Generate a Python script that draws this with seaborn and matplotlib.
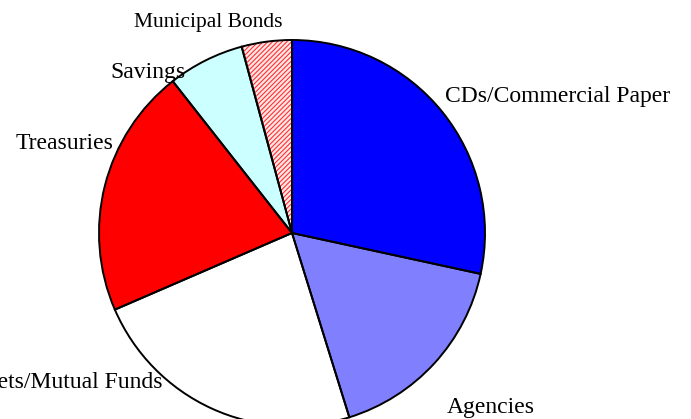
import matplotlib
matplotlib.use("Agg")
import matplotlib.pyplot as plt
import seaborn as sns

categories = ["CDs/Commercial Paper", "Agencies", "Money Markets/Mutual Funds",
              "Treasuries", "Savings", "Municipal Bonds"]
values = [28.4, 16.8, 23.3, 20.9, 6.4, 4.2]
colors = ["#0000ff", "#8080ff", "#ffffff", "#ff0000", "#ccffff", "#ffe6e6"]
hatches = [None, None, None, None, None, "///////"]
hatch_colors = ["none", "none", "none", "none", "none", "#ff3030"]

# label layout: (x px, baseline y px, ha, fontsize)
label_layout = [
    (445, 102, "left", 17),
    (447, 413, "left", 17),
    (163, 388, "right", 17),
    (113, 149, "right", 17),
    (185, 78, "right", 17),
    (282, 27, "right", 15.5),
]

sns.set_theme(style="white")
plt.rcParams["font.family"] = ["Liberation Serif", "DejaVu Serif"]
plt.rcParams["hatch.linewidth"] = 0.8

W, H = 691, 419
fig = plt.figure(figsize=(W / 100, H / 100), dpi=100)
fig.patch.set_facecolor("white")

cx, cy, r = 292, 233, 193
ax = fig.add_axes([(cx - r) / W, (H - cy - r) / H, 2 * r / W, 2 * r / H])

wedges, _ = ax.pie(values, colors=colors, startangle=90, counterclock=False,
                   wedgeprops=dict(linewidth=0))
for w, h, hc in zip(wedges, hatches, hatch_colors):
    if h:
        w.set_hatch(h)
        w.set_edgecolor(hc)
outline, _ = ax.pie(values, startangle=90, counterclock=False,
                    wedgeprops=dict(fill=False, edgecolor="black", linewidth=1.4))
ax.set_xlim(-1, 1)
ax.set_ylim(-1, 1)
ax.set_aspect("auto")
ax.axis("off")
for p in list(wedges) + list(outline):
    p.set_clip_on(False)

for name, (x, y, ha, fs) in zip(categories, label_layout):
    fig.text(x / W, 1 - y / H, name, ha=ha, va="baseline", fontsize=fs, color="black")

fig.savefig("out.png", dpi=100, facecolor="white")
